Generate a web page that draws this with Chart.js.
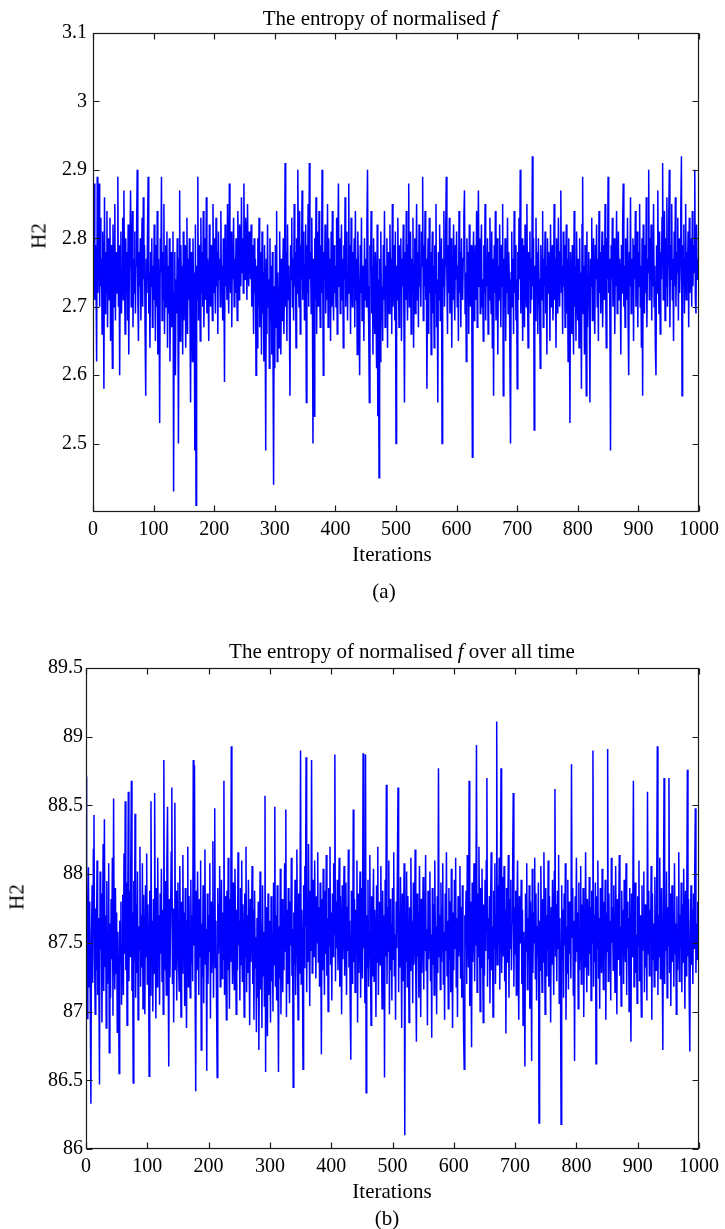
<!DOCTYPE html>
<html>
<head>
<meta charset="utf-8">
<script src="https://cdn.jsdelivr.net/npm/chart.js@4.4.1/dist/chart.umd.min.js"></script>
<style>
  body { margin: 0; background: #fff; width: 725px; height: 1229px; position: relative; overflow: hidden;
         font-family: "Liberation Serif", "Times New Roman", serif; color: #000; }
  .box { position: absolute; left: 0; width: 725px; }
  .lbl { position: absolute; white-space: nowrap; font-size: 21px; line-height: 1; transform: translate(-50%, -50%); }
  .rot { transform: translate(-50%, -50%) rotate(-90deg); }
</style>
</head>
<body>

<div class="box" style="top:0;height:560px"><canvas id="chartA"></canvas></div>
<div class="box" style="top:620px;height:580px"><canvas id="chartB"></canvas></div>

<div class="lbl" style="left:380px;top:18px">The entropy of normalised <i>f</i></div>
<div class="lbl rot" style="left:39px;top:236px">H2</div>
<div class="lbl" style="left:392px;top:554px">Iterations</div>
<div class="lbl" style="left:384px;top:591px">(a)</div>

<div class="lbl" style="left:402px;top:651px">The entropy of normalised <i>f</i> over all time</div>
<div class="lbl rot" style="left:17px;top:897px">H2</div>
<div class="lbl" style="left:392px;top:1191px">Iterations</div>
<div class="lbl" style="left:387px;top:1218px">(b)</div>

<script>
// ─── Data (one value per iteration) ──────────────────────────────────────────
const iterTicks = [0, 100, 200, 300, 400, 500, 600, 700, 800, 900, 1000];

const entropyTicksA = [2.5, 2.6, 2.7, 2.8, 2.9, 3, 3.1];
const entropyA = [
  2.85,2.75,2.88,2.71,2.79,2.74,2.62,2.89,2.72,2.80,
  2.88,2.70,2.83,2.73,2.77,2.66,2.81,2.74,2.58,2.86,
  2.69,2.78,2.72,2.84,2.67,2.80,2.75,2.71,2.83,2.65,
  2.79,2.73,2.61,2.82,2.76,2.70,2.85,2.68,2.78,2.74,
  2.72,2.89,2.70,2.79,2.60,2.77,2.81,2.69,2.75,2.83,
  2.71,2.87,2.74,2.66,2.80,2.72,2.78,2.68,2.82,2.63,
  2.76,2.79,2.87,2.70,2.74,2.84,2.67,2.77,2.72,2.81,
  2.69,2.76,2.82,2.90,2.71,2.65,2.78,2.73,2.80,2.68,
  2.75,2.83,2.70,2.86,2.74,2.79,2.66,2.57,2.77,2.72,
  2.81,2.89,2.69,2.75,2.64,2.78,2.73,2.80,2.67,2.76,
  // 100
  2.71,2.82,2.74,2.65,2.79,2.70,2.84,2.63,2.77,2.72,
  2.53,2.80,2.75,2.89,2.68,2.78,2.71,2.85,2.66,2.74,
  2.79,2.70,2.81,2.64,2.76,2.69,2.80,2.62,2.73,2.78,
  2.67,2.75,2.81,2.43,2.72,2.78,2.60,2.74,2.69,2.80,
  2.73,2.50,2.77,2.87,2.65,2.79,2.70,2.76,2.63,2.81,
  2.68,2.74,2.79,2.64,2.72,2.83,2.66,2.77,2.71,2.80,
  2.69,2.56,2.78,2.73,2.62,2.80,2.70,2.75,2.49,2.82,
  2.41,2.76,2.71,2.89,2.68,2.79,2.74,2.65,2.83,2.72,
  2.78,2.70,2.84,2.67,2.75,2.80,2.71,2.86,2.69,2.77,
  2.73,2.65,2.82,2.76,2.70,2.79,2.74,2.68,2.85,2.72,
  // 200
  2.80,2.75,2.69,2.83,2.73,2.78,2.66,2.81,2.74,2.77,
  2.70,2.84,2.72,2.76,2.68,2.80,2.75,2.59,2.82,2.73,
  2.78,2.71,2.85,2.74,2.69,2.88,2.76,2.72,2.81,2.67,
  2.79,2.74,2.83,2.70,2.77,2.72,2.80,2.75,2.68,2.84,
  2.76,2.71,2.82,2.78,2.73,2.86,2.75,2.80,2.72,2.88,
  2.77,2.74,2.83,2.79,2.71,2.85,2.76,2.73,2.81,2.78,
  2.74,2.82,2.70,2.79,2.75,2.66,2.80,2.72,2.77,2.60,
  2.76,2.64,2.80,2.70,2.83,2.67,2.74,2.78,2.63,2.81,
  2.69,2.75,2.62,2.79,2.71,2.49,2.77,2.66,2.82,2.70,
  2.74,2.61,2.80,2.68,2.76,2.63,2.78,2.65,2.44,2.73,
  // 300
  2.61,2.79,2.67,2.84,2.62,2.75,2.70,2.64,2.81,2.72,
  2.63,2.77,2.68,2.74,2.80,2.66,2.73,2.91,2.70,2.78,
  2.65,2.82,2.71,2.76,2.69,2.57,2.79,2.74,2.83,2.70,
  2.77,2.68,2.85,2.73,2.78,2.64,2.80,2.72,2.90,2.75,
  2.70,2.84,2.66,2.79,2.74,2.87,2.71,2.77,2.81,2.68,
  2.76,2.82,2.56,2.79,2.72,2.85,2.70,2.91,2.74,2.78,
  2.69,2.83,2.73,2.50,2.77,2.54,2.80,2.71,2.86,2.66,
  2.75,2.81,2.70,2.84,2.73,2.67,2.79,2.72,2.90,2.76,
  2.60,2.78,2.74,2.82,2.69,2.76,2.71,2.85,2.67,2.80,
  2.73,2.77,2.65,2.81,2.70,2.84,2.74,2.68,2.79,2.72,
  // 400
  2.76,2.70,2.83,2.66,2.78,2.88,2.73,2.80,2.69,2.75,
  2.82,2.71,2.77,2.64,2.79,2.74,2.86,2.70,2.76,2.81,
  2.68,2.75,2.88,2.72,2.79,2.66,2.83,2.74,2.70,2.78,
  2.73,2.80,2.67,2.84,2.71,2.77,2.63,2.81,2.75,2.69,
  2.60,2.79,2.72,2.83,2.68,2.76,2.74,2.65,2.80,2.71,
  2.77,2.70,2.82,2.90,2.73,2.67,2.56,2.79,2.75,2.84,
  2.69,2.76,2.63,2.80,2.72,2.66,2.78,2.70,2.61,2.82,
  2.54,2.74,2.45,2.77,2.62,2.81,2.68,2.73,2.65,2.79,
  2.71,2.84,2.67,2.76,2.72,2.80,2.64,2.78,2.74,2.69,
  2.82,2.73,2.77,2.66,2.85,2.70,2.75,2.79,2.68,2.81,
  // 500
  2.50,2.76,2.71,2.83,2.74,2.67,2.79,2.72,2.80,2.65,
  2.77,2.73,2.82,2.69,2.56,2.78,2.71,2.84,2.74,2.68,
  2.79,2.88,2.70,2.75,2.81,2.66,2.77,2.72,2.83,2.64,
  2.76,2.80,2.69,2.74,2.85,2.71,2.78,2.67,2.82,2.73,
  2.75,2.70,2.81,2.76,2.89,2.68,2.79,2.73,2.84,2.71,
  2.77,2.58,2.74,2.80,2.66,2.83,2.72,2.78,2.63,2.75,
  2.81,2.69,2.76,2.64,2.79,2.72,2.85,2.67,2.74,2.56,
  2.78,2.71,2.82,2.68,2.75,2.80,2.50,2.77,2.73,2.84,
  2.70,2.76,2.81,2.89,2.74,2.66,2.79,2.72,2.83,2.69,
  2.75,2.80,2.64,2.77,2.71,2.82,2.73,2.68,2.79,2.74,
  // 600
  2.81,2.70,2.76,2.65,2.84,2.72,2.78,2.67,2.80,2.74,
  2.71,2.77,2.83,2.87,2.69,2.75,2.62,2.80,2.73,2.78,
  2.66,2.82,2.74,2.70,2.79,2.72,2.48,2.76,2.81,2.68,
  2.75,2.79,2.71,2.84,2.67,2.77,2.87,2.73,2.80,2.69,
  2.76,2.82,2.70,2.74,2.65,2.79,2.72,2.85,2.68,2.77,
  2.73,2.80,2.66,2.78,2.71,2.83,2.74,2.69,2.81,2.64,
  2.77,2.57,2.79,2.72,2.84,2.68,2.75,2.80,2.63,2.76,
  2.71,2.82,2.74,2.67,2.79,2.73,2.85,2.57,2.77,2.70,
  2.80,2.65,2.76,2.72,2.83,2.69,2.78,2.74,2.62,2.50,
  2.75,2.81,2.70,2.77,2.66,2.84,2.72,2.79,2.68,2.74,
  // 700
  2.58,2.78,2.71,2.83,2.74,2.90,2.69,2.76,2.80,2.65,
  2.73,2.79,2.67,2.82,2.75,2.70,2.85,2.72,2.64,2.78,
  2.74,2.81,2.69,2.77,2.71,2.92,2.73,2.80,2.52,2.76,
  2.68,2.83,2.72,2.78,2.66,2.80,2.74,2.70,2.61,2.79,
  2.75,2.71,2.84,2.67,2.77,2.73,2.81,2.69,2.76,2.63,
  2.80,2.72,2.78,2.74,2.65,2.82,2.70,2.76,2.79,2.68,
  2.73,2.85,2.71,2.77,2.64,2.80,2.74,2.69,2.83,2.75,
  2.70,2.78,2.87,2.72,2.76,2.66,2.81,2.73,2.79,2.67,
  2.75,2.82,2.69,2.77,2.62,2.80,2.71,2.53,2.78,2.74,
  2.66,2.79,2.72,2.63,2.84,2.70,2.76,2.65,2.81,2.73,
  // 800
  2.68,2.77,2.64,2.80,2.71,2.75,2.58,2.82,2.89,2.69,
  2.76,2.63,2.79,2.72,2.57,2.81,2.67,2.74,2.78,2.70,
  2.56,2.77,2.73,2.83,2.68,2.75,2.80,2.71,2.66,2.79,
  2.74,2.82,2.70,2.77,2.65,2.84,2.72,2.78,2.69,2.76,
  2.81,2.67,2.75,2.79,2.71,2.85,2.73,2.64,2.80,2.74,
  2.89,2.72,2.77,2.68,2.49,2.79,2.74,2.83,2.70,2.76,
  2.80,2.66,2.78,2.73,2.84,2.69,2.75,2.81,2.71,2.77,
  2.74,2.63,2.79,2.72,2.82,2.88,2.70,2.76,2.67,2.80,
  2.75,2.71,2.83,2.68,2.60,2.78,2.73,2.86,2.69,2.77,
  2.72,2.80,2.65,2.79,2.74,2.84,2.70,2.76,2.81,2.67,
  // 900
  2.78,2.73,2.85,2.70,2.76,2.64,2.80,2.57,2.82,2.74,
  2.69,2.79,2.72,2.86,2.67,2.77,2.75,2.90,2.71,2.80,
  2.74,2.82,2.68,2.78,2.73,2.85,2.70,2.76,2.64,2.60,
  2.79,2.72,2.87,2.75,2.69,2.81,2.66,2.78,2.74,2.83,
  2.91,2.71,2.77,2.84,2.68,2.80,2.73,2.86,2.70,2.76,
  2.82,2.90,2.67,2.79,2.74,2.85,2.71,2.77,2.65,2.81,
  2.73,2.86,2.70,2.78,2.75,2.83,2.68,2.80,2.72,2.76,
  2.84,2.92,2.57,2.79,2.73,2.82,2.69,2.77,2.85,2.71,
  2.78,2.74,2.81,2.67,2.83,2.72,2.76,2.80,2.70,2.84,
  2.73,2.79,2.75,2.90,2.71,2.69,2.82,2.74,2.77,2.76
];

const entropyTicksB = [86, 86.5, 87, 87.5, 88, 88.5, 89, 89.5];
const entropyB = [
  88.71,87.35,86.95,87.62,88.05,87.18,87.80,87.02,86.33,87.55,
  87.92,87.21,88.18,88.43,87.40,86.98,87.75,87.30,88.10,87.12,
  87.68,87.25,86.47,88.02,87.45,87.86,86.92,87.58,88.22,87.15,
  88.40,87.33,87.70,86.88,87.95,87.20,87.52,88.08,86.70,87.64,
  87.10,87.82,87.38,88.12,86.97,88.55,87.48,87.16,87.90,87.28,
  87.72,86.85,87.58,87.24,86.55,87.66,87.35,87.80,87.05,87.48,
  87.85,87.12,88.15,87.42,88.53,87.30,87.94,86.90,87.60,88.60,
  87.22,87.88,87.40,88.05,88.68,87.15,87.72,86.48,87.95,87.36,
  88.44,87.10,87.78,87.28,88.02,86.94,87.62,87.45,88.20,87.18,
  87.70,87.32,88.08,87.02,87.85,87.25,86.98,87.92,87.40,88.15,
  // 100
  87.20,87.78,87.46,86.53,87.88,87.12,88.53,87.35,87.66,87.00,
  87.82,87.28,88.59,87.50,86.95,87.90,87.18,88.12,87.38,87.70,
  87.05,87.86,87.42,88.04,87.22,87.74,86.98,88.83,87.30,87.95,
  87.48,87.12,88.10,88.49,87.36,86.60,87.82,87.25,87.68,88.16,
  88.63,87.20,87.75,86.92,87.58,88.52,87.30,87.88,87.08,87.62,
  87.94,87.38,87.15,88.06,87.52,86.96,87.80,87.28,88.14,87.44,
  87.72,87.04,87.90,87.32,86.88,87.66,88.20,87.18,87.84,87.40,
  87.10,87.96,87.35,87.70,87.22,88.83,87.48,88.79,87.15,86.42,
  87.88,87.30,88.02,87.56,87.12,87.82,87.40,88.10,86.72,87.64,
  87.25,87.92,87.06,87.74,88.18,87.34,87.60,86.57,87.86,87.20,
  // 200
  87.70,87.44,88.08,86.95,87.80,87.28,87.54,88.24,87.10,87.76,
  88.48,87.32,87.66,87.05,86.52,87.90,87.42,87.78,88.06,87.18,
  87.58,87.96,87.24,87.72,87.38,88.68,87.12,87.84,87.46,86.94,
  87.88,87.30,88.12,87.50,87.02,87.82,87.36,88.93,87.60,87.20,
  87.94,87.42,87.16,88.04,87.56,86.98,87.74,87.30,88.16,87.48,
  87.66,87.08,87.90,87.34,88.10,87.22,87.78,87.52,86.96,87.86,
  87.40,88.20,87.14,87.70,87.28,87.96,87.46,86.90,87.82,87.36,
  87.62,88.06,87.20,87.74,86.94,87.88,87.32,87.54,86.85,87.68,
  87.10,87.80,86.72,87.48,88.02,87.16,87.64,86.88,87.92,87.26,
  87.58,87.04,88.57,86.56,87.76,87.30,86.82,87.86,87.12,87.66,
  // 300
  87.40,86.92,87.84,87.22,87.58,87.00,87.94,87.34,88.49,87.18,
  87.70,87.08,87.92,87.36,86.56,87.62,87.24,88.04,86.98,87.50,
  87.82,87.14,87.66,87.30,88.08,87.44,88.47,86.96,87.74,87.20,
  87.90,87.38,87.06,87.80,87.48,88.12,87.26,87.60,86.45,87.72,
  87.34,87.96,87.12,87.68,88.18,87.40,86.94,87.86,87.28,87.56,
  88.90,87.20,87.74,87.46,86.58,87.92,87.32,88.06,87.62,88.85,
  87.14,87.80,87.36,88.22,87.52,87.04,87.88,87.44,88.83,87.28,
  87.70,87.96,87.40,88.10,87.58,87.24,87.84,87.50,88.16,87.36,
  87.76,87.18,87.94,87.46,86.69,87.82,87.30,88.04,87.56,87.12,
  87.88,87.42,88.14,87.26,87.68,87.00,87.90,87.48,88.20,87.34,
  // 400
  87.72,87.08,87.86,87.40,88.08,87.56,88.87,87.22,87.80,87.46,
  87.96,87.30,87.64,88.12,87.18,87.84,87.52,86.98,87.92,87.38,
  87.70,88.06,87.26,87.58,87.94,87.12,87.76,87.44,88.18,87.32,
  87.66,87.04,86.65,87.88,87.50,87.20,88.47,87.36,87.82,87.14,
  87.74,87.42,88.10,86.92,87.86,87.28,87.60,88.02,87.10,87.54,
  87.90,87.24,88.88,87.46,87.78,87.06,88.87,86.41,87.70,87.32,
  87.96,87.18,87.58,88.14,87.40,86.90,87.84,87.26,87.66,88.04,
  87.22,87.74,87.48,86.96,87.92,87.36,88.20,87.12,87.62,87.80,
  87.34,88.06,87.50,87.02,87.88,87.28,87.70,86.52,87.96,87.40,
  88.65,87.20,87.76,87.44,88.10,86.98,87.82,87.30,87.64,87.08,
  // 500
  87.90,87.38,88.16,87.26,87.56,86.94,87.80,87.46,88.04,88.63,
  87.14,87.72,87.32,87.98,87.50,86.88,87.86,87.22,87.60,88.08,
  86.10,87.70,87.36,88.02,87.18,87.84,87.48,86.92,87.76,87.30,
  88.12,87.42,87.66,87.06,87.94,87.34,87.58,88.18,87.24,86.78,
  87.86,87.40,87.72,87.10,88.06,87.52,86.96,87.82,87.28,87.64,
  87.98,87.16,87.74,87.44,88.14,87.30,87.60,86.90,87.88,87.38,
  87.68,88.02,87.22,87.56,86.81,87.90,87.34,87.78,87.12,88.10,
  87.46,87.62,86.98,87.84,87.28,88.77,87.40,87.70,87.16,87.94,
  87.36,87.74,88.08,87.20,87.58,86.94,87.86,87.44,88.16,87.26,
  87.66,87.02,87.90,87.38,87.80,87.14,88.04,87.50,86.88,87.72,
  // 600
  87.30,87.96,87.46,88.12,87.18,87.68,86.96,87.84,87.40,87.58,
  88.06,87.24,87.76,87.10,87.92,87.36,86.84,86.58,87.70,87.48,
  87.88,87.20,88.14,87.56,87.32,88.68,87.04,87.80,87.42,86.74,
  87.94,87.36,87.66,88.08,87.22,87.72,87.48,88.94,87.14,87.86,
  87.40,88.20,87.58,87.00,87.90,87.32,88.04,87.52,86.92,87.78,
  87.26,87.96,87.44,88.10,88.70,87.18,87.68,87.38,87.84,87.06,
  87.74,88.16,87.30,87.62,86.96,87.88,87.46,88.08,87.20,87.70,
  89.11,87.34,87.92,87.48,88.12,87.16,87.80,88.77,87.28,87.60,
  87.98,87.40,88.06,87.22,87.74,86.84,87.90,87.36,87.68,88.14,
  87.10,87.82,87.46,87.96,87.30,87.64,88.02,88.59,87.18,87.76,
  // 700
  87.42,87.88,87.12,87.70,88.10,87.34,86.94,87.84,87.50,87.62,
  87.96,87.20,87.74,86.90,87.58,87.32,86.60,87.86,87.44,88.08,
  87.16,87.68,87.38,87.92,87.02,87.80,87.46,86.64,88.04,87.28,
  87.72,87.50,88.12,87.24,87.86,87.08,87.62,87.40,87.94,86.19,
  87.66,87.30,88.06,87.48,87.14,87.82,87.36,88.16,87.56,86.98,
  87.90,87.26,87.70,87.44,88.10,87.18,87.84,87.52,86.92,87.76,
  87.34,87.96,87.60,87.12,88.02,88.62,87.40,87.78,87.22,87.88,
  87.46,88.14,87.06,87.68,87.30,86.18,87.92,87.38,87.74,87.10,
  87.86,87.48,88.08,86.94,87.62,87.28,87.96,87.16,87.80,87.42,
  87.70,87.24,88.80,87.54,87.90,87.12,87.66,86.64,87.84,87.36,
  // 800
  88.12,87.44,87.72,87.02,87.94,87.30,87.58,88.06,87.20,87.78,
  87.40,87.90,86.96,87.64,87.32,88.16,87.48,87.14,87.82,87.56,
  87.26,87.98,87.42,87.76,87.08,87.88,87.50,88.90,87.18,87.70,
  87.36,87.94,86.62,87.84,87.46,88.10,87.24,87.68,87.02,87.90,
  87.52,87.28,88.04,87.60,87.16,87.80,87.40,87.96,86.94,87.72,
  87.44,88.91,87.22,87.86,87.34,87.66,87.08,88.12,87.50,87.76,
  87.30,87.92,87.48,87.14,88.06,87.58,86.98,87.82,87.38,87.70,
  88.14,87.26,87.62,87.04,87.88,87.42,87.74,87.20,87.96,87.52,
  87.36,88.08,87.12,87.80,87.46,87.68,87.00,87.90,87.34,86.78,
  87.86,87.40,87.72,88.68,87.18,87.62,87.94,87.28,87.56,87.06,
  // 900
  87.84,87.48,88.10,87.22,87.70,87.36,86.96,87.92,87.44,87.66,
  88.02,87.14,87.78,87.32,87.60,87.08,88.60,87.42,87.88,87.26,
  87.74,87.52,88.06,86.94,87.86,87.38,87.64,87.18,87.98,87.46,
  87.30,87.82,88.93,87.12,87.70,87.40,88.12,87.24,87.56,87.90,
  87.34,86.72,87.80,88.70,87.20,87.66,87.44,88.02,87.10,87.76,
  87.48,88.70,87.28,87.86,87.04,87.62,87.92,87.36,87.72,87.18,
  88.08,87.42,87.64,86.98,87.84,87.30,87.58,88.16,87.22,87.70,
  87.46,87.94,87.14,87.78,87.36,88.04,87.52,87.02,87.88,87.26,
  87.68,88.76,87.40,87.82,87.12,86.71,87.60,87.92,87.34,87.74,
  87.20,87.86,87.46,88.02,88.48,87.28,87.64,87.38,87.80,87.55
];

// ─── Shared look ──────────────────────────────────────────────────────────────
const FONT = { family: '"Liberation Serif", "Times New Roman", serif', size: 20 };
const LINE_BLUE = '#0000ff';

// Box round the plot plus inward tick marks on all four sides (MATLAB style)
const framePlugin = {
    id: 'frame',
    afterDraw(chart) {
        const { ctx, chartArea: a, scales: { x, y } } = chart;
        const L = Math.round(a.left) + 0.5, R = Math.round(a.right) - 0.5;
        const T = Math.round(a.top) + 0.5, B = Math.round(a.bottom) - 0.5;
        ctx.save();
        ctx.strokeStyle = '#1a1a1a';
        ctx.lineWidth = 1.2;
        ctx.beginPath();
        x.ticks.forEach(t => {
            const px = Math.round(x.getPixelForValue(t.value)) + 0.5;
            ctx.moveTo(px, B); ctx.lineTo(px, B - 6);
            ctx.moveTo(px, T); ctx.lineTo(px, T + 6);
        });
        y.ticks.forEach(t => {
            const py = Math.round(y.getPixelForValue(t.value)) + 0.5;
            ctx.moveTo(L, py); ctx.lineTo(L + 6, py);
            ctx.moveTo(R, py); ctx.lineTo(R - 6, py);
        });
        ctx.stroke();
        ctx.strokeRect(L, T, R - L, B - T);
        ctx.restore();
    }
};

function makeChart(id, values, yMin, yMax, yTicks, box) {
    return new Chart(document.getElementById(id), {
        type: 'line',
        data: {
            datasets: [{
                data: values.map((v, i) => ({ x: i, y: v })),
                borderColor: LINE_BLUE,
                borderWidth: 1.5,
                pointRadius: 0,
                tension: 0,
                fill: false
            }]
        },
        options: {
            responsive: true,
            maintainAspectRatio: false,
            animation: false,
            events: [],
            layout: { padding: { left: 0, top: box.top, right: box.right, bottom: 0 } },
            plugins: { legend: { display: false }, tooltip: { enabled: false } },
            scales: {
                x: {
                    type: 'linear',
                    min: 0,
                    max: 1000,
                    afterBuildTicks: s => { s.ticks = iterTicks.map(v => ({ value: v })); },
                    afterFit: s => { s.height = box.xHeight; },
                    ticks: { font: FONT, color: '#000', padding: box.xPad, maxRotation: 0, autoSkip: false,
                             callback: v => String(v) },
                    grid: { display: false, drawTicks: false },
                    border: { display: false }
                },
                y: {
                    min: yMin,
                    max: yMax,
                    afterBuildTicks: s => { s.ticks = yTicks.map(v => ({ value: v })); },
                    afterFit: s => { s.width = box.yWidth; },
                    ticks: { font: FONT, color: '#000', padding: box.yPad, autoSkip: false,
                             callback: v => String(v) },
                    grid: { display: false, drawTicks: false },
                    border: { display: false }
                }
            }
        },
        plugins: [framePlugin]
    });
}

// ─── Wiring ───────────────────────────────────────────────────────────────────
makeChart('chartA', entropyA, 2.4, 3.1, entropyTicksA,
    { top: 33, right: 25, yWidth: 93, xHeight: 48, xPad: 6, yPad: 6 });
makeChart('chartB', entropyB, 86, 89.5, entropyTicksB,
    { top: 48, right: 23, yWidth: 86, xHeight: 51, xPad: 6, yPad: 3 });
</script>
</body>
</html>
